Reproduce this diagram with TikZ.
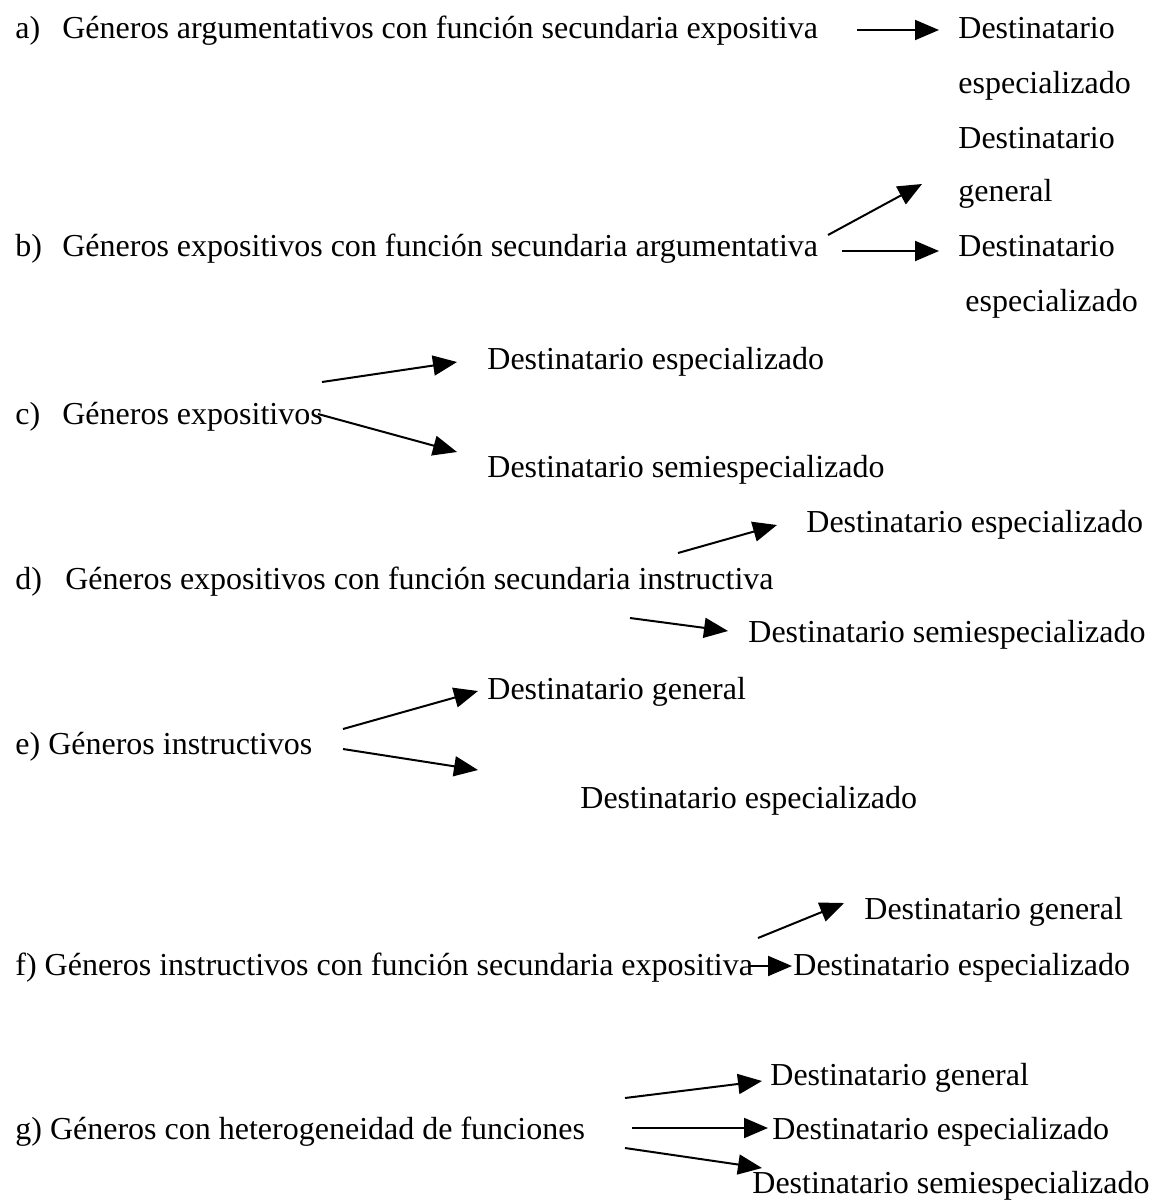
\documentclass[tikz,border=0pt]{standalone}
\usepackage{fontspec}
\setmainfont{Liberation Serif}
\usetikzlibrary{arrows.meta}
\begin{document}
\begin{tikzpicture}[x=0.5pt,y=-0.5pt,
  txt/.style={anchor=base west, inner sep=0pt, font=\fontsize{16}{19}\selectfont},
  arr/.style={-{Triangle[length=12pt,width=10pt]}, line width=1pt}]
\useasboundingbox (0,0) rectangle (1155,1200);

% genre labels
\node[txt] (ga) at (15,38)   {\makebox[23.5pt][l]{a)}Géneros argumentativos con función secundaria expositiva};
\node[txt] (gb) at (15,256)  {\makebox[23.5pt][l]{b)}Géneros expositivos con función secundaria argumentativa};
\node[txt] (gc) at (15,424)  {\makebox[23.5pt][l]{c)}Géneros expositivos};
\node[txt] (gd) at (15,589)  {\makebox[25pt][l]{d)}Géneros expositivos con función secundaria instructiva};
\node[txt] (ge) at (15,754)  {e) Géneros instructivos};
\node[txt] (gf) at (15,975)  {f) Géneros instructivos con función secundaria expositiva};
\node[txt] (gg) at (15,1139) {g) Géneros con heterogeneidad de funciones};

% addressees
\node[txt] (a1)  at (958,38)  {Destinatario};
\node[txt] (a1b) at (958,93)  {especializado};
\node[txt] (b1)  at (958,148) {Destinatario};
\node[txt] (b1b) at (958,201) {general};
\node[txt] (b2)  at (958,256) {Destinatario};
\node[txt] (b2b) at (965,311) {especializado};
\node[txt] (c1)  at (487,369) {Destinatario especializado};
\node[txt] (c2)  at (487,477) {Destinatario semiespecializado};
\node[txt] (d1)  at (806,532) {Destinatario especializado};
\node[txt] (d2)  at (748,642) {Destinatario semiespecializado};
\node[txt] (e1)  at (487,699) {Destinatario general};
\node[txt] (e2)  at (580,808) {Destinatario especializado};
\node[txt] (f1)  at (864,919) {Destinatario general};
\node[txt] (f2)  at (793,975) {Destinatario especializado};
\node[txt] (g1)  at (770,1085) {Destinatario general};
\node[txt] (g2)  at (772,1139) {Destinatario especializado};
\node[txt] (g3)  at (752,1193) {Destinatario semiespecializado};

% arrow ends
\coordinate (sa)  at (857,30);   \coordinate (ta)  at (939,30);
\coordinate (sb1) at (828,235);  \coordinate (tb1) at (922,184);
\coordinate (sb2) at (842,251);  \coordinate (tb2) at (939,251);
\coordinate (sc1) at (322,382);  \coordinate (tc1) at (457,362);
\coordinate (sc2) at (318,414);  \coordinate (tc2) at (457,452);
\coordinate (sd1) at (678,553);  \coordinate (td1) at (777,525);
\coordinate (sd2) at (630,618);  \coordinate (td2) at (728,631);
\coordinate (se1) at (343,729);  \coordinate (te1) at (478,691);
\coordinate (se2) at (343,749);  \coordinate (te2) at (478,770);
\coordinate (sf1) at (758,938);  \coordinate (tf1) at (844,903);
\coordinate (sf2) at (748,966);  \coordinate (tf2) at (792,966);
\coordinate (sg1) at (625,1098); \coordinate (tg1) at (762,1081);
\coordinate (sg2) at (632,1128); \coordinate (tg2) at (768,1128);
\coordinate (sg3) at (625,1148); \coordinate (tg3) at (762,1168);

\draw[arr] (sa)  -- (ta);
\draw[arr] (sb1) -- (tb1);
\draw[arr] (sb2) -- (tb2);
\draw[arr] (sc1) -- (tc1);
\draw[arr] (sc2) -- (tc2);
\draw[arr] (sd1) -- (td1);
\draw[arr] (sd2) -- (td2);
\draw[arr] (se1) -- (te1);
\draw[arr] (se2) -- (te2);
\draw[arr] (sf1) -- (tf1);
\draw[arr] (sf2) -- (tf2);
\draw[arr] (sg1) -- (tg1);
\draw[arr] (sg2) -- (tg2);
\draw[arr] (sg3) -- (tg3);
\end{tikzpicture}
\end{document}
